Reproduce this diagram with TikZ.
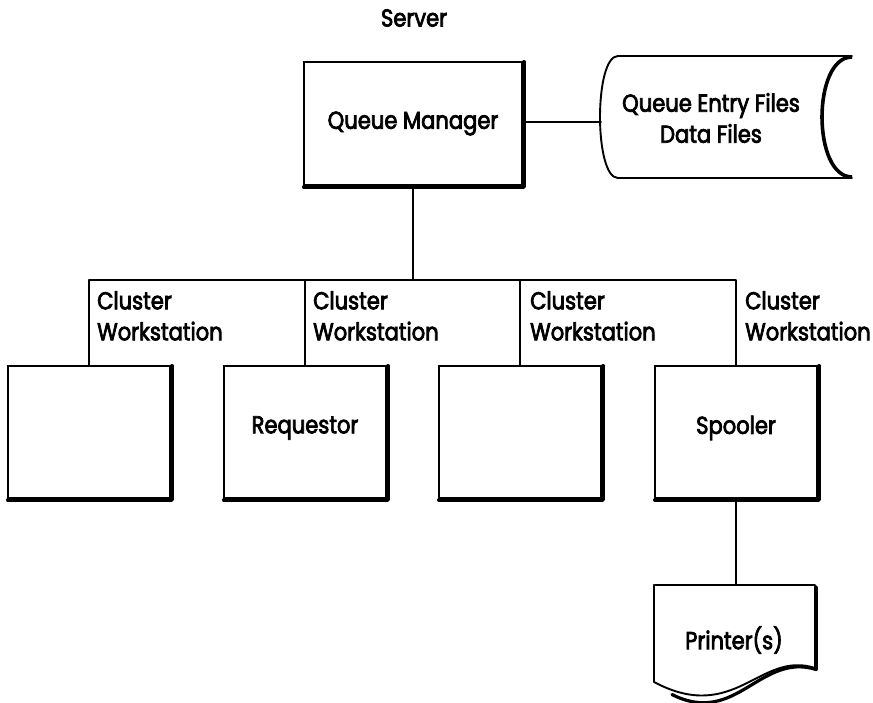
\documentclass[tikz,border=0pt]{standalone}
\usepackage{fontspec}
\setmainfont{Poppins}[FakeStretch=0.86,FakeBold=3]
\begin{document}
\begin{tikzpicture}[x=1pt,y=-1pt,
  line/.style={line width=1.9pt, line cap=round, line join=round},
  shade line/.style={line width=3.2pt, line cap=round, line join=round},
  box/.style={draw, line width=1.9pt, rectangle, inner sep=0pt,
    minimum width=162pt, minimum height=132pt, font=\fontsize{24.5}{28}\selectfont},
  lbl/.style={font=\fontsize{24.5}{31}\selectfont, inner sep=0pt},
  cw/.style={lbl, anchor=north west, align=left}]
\useasboundingbox (0,0) rectangle (873,703);

% server
\node[lbl] (srv) at (414,18) {Server};
\node[box, minimum width=218pt, minimum height=123pt] (qm) at (413,123.5) {Queue Manager};

% file store
\draw[line] (618,56) -- (852,56);
\draw[line] (618,178) -- (852,178);
\draw[line] (618,56) .. controls (594,56) and (594,178) .. (618,178);
\draw[line width=3.6pt] (852,57) .. controls (812,57) and (812,177) .. (852,177);
\coordinate (files) at (601,122);
\node[lbl, align=center] (ftext) at (711,118) {Queue Entry Files\\Data Files};

% workstations
\node[box] (w1) at (89,432) {};
\node[box] (w2) at (305,432) {};
\node[box] (w3) at (520,432) {};
\node[box] (w4) at (736,432) {};
\node[lbl] (t2) at (305,428) {Requestor};
\node[lbl] (t4) at (736,428) {Spooler};

\foreach \n in {qm,w1,w2,w3,w4}
  \draw[shade line] ([xshift=1.1pt,yshift=-0.6pt]\n.north east)
     -- ([xshift=1.1pt,yshift=-1.1pt]\n.south east)
     -- ([xshift=0.6pt,yshift=-1.1pt]\n.south west);

% printer
\coordinate (ptop) at (736,585);
\draw[line] (654,682) -- (654,585) -- (815,585) -- (815,668);
\draw[line] (815,668) .. controls (760,650) and (735,725) .. (654,682);
\draw[shade line] (816.2,587) -- (816.2,669.5) .. controls (760,652) and (736,727) .. (672,694.5);
\node[lbl] (prn) at (734,640) {Printer(s)};

% bus
\coordinate (bus) at (413,280);
\draw[line] (qm.east |- files) -- (files);
\draw[line] (qm.south) -- (bus);
\draw[line] (w1.north) |- (bus) -| (w4.north);
\draw[line] (w2.north) -- (w2.north |- bus);
\draw[line] (w3.north) -- (w3.north |- bus);
\draw[line] (w4.south) -- (w4.south |- ptop);

\node[cw] (c1) at (97,291) {Cluster\\Workstation};
\node[cw] (c2) at (313,291) {Cluster\\Workstation};
\node[cw] (c3) at (530,291) {Cluster\\Workstation};
\node[cw] (c4) at (745,291) {Cluster\\Workstation};
\end{tikzpicture}
\end{document}
